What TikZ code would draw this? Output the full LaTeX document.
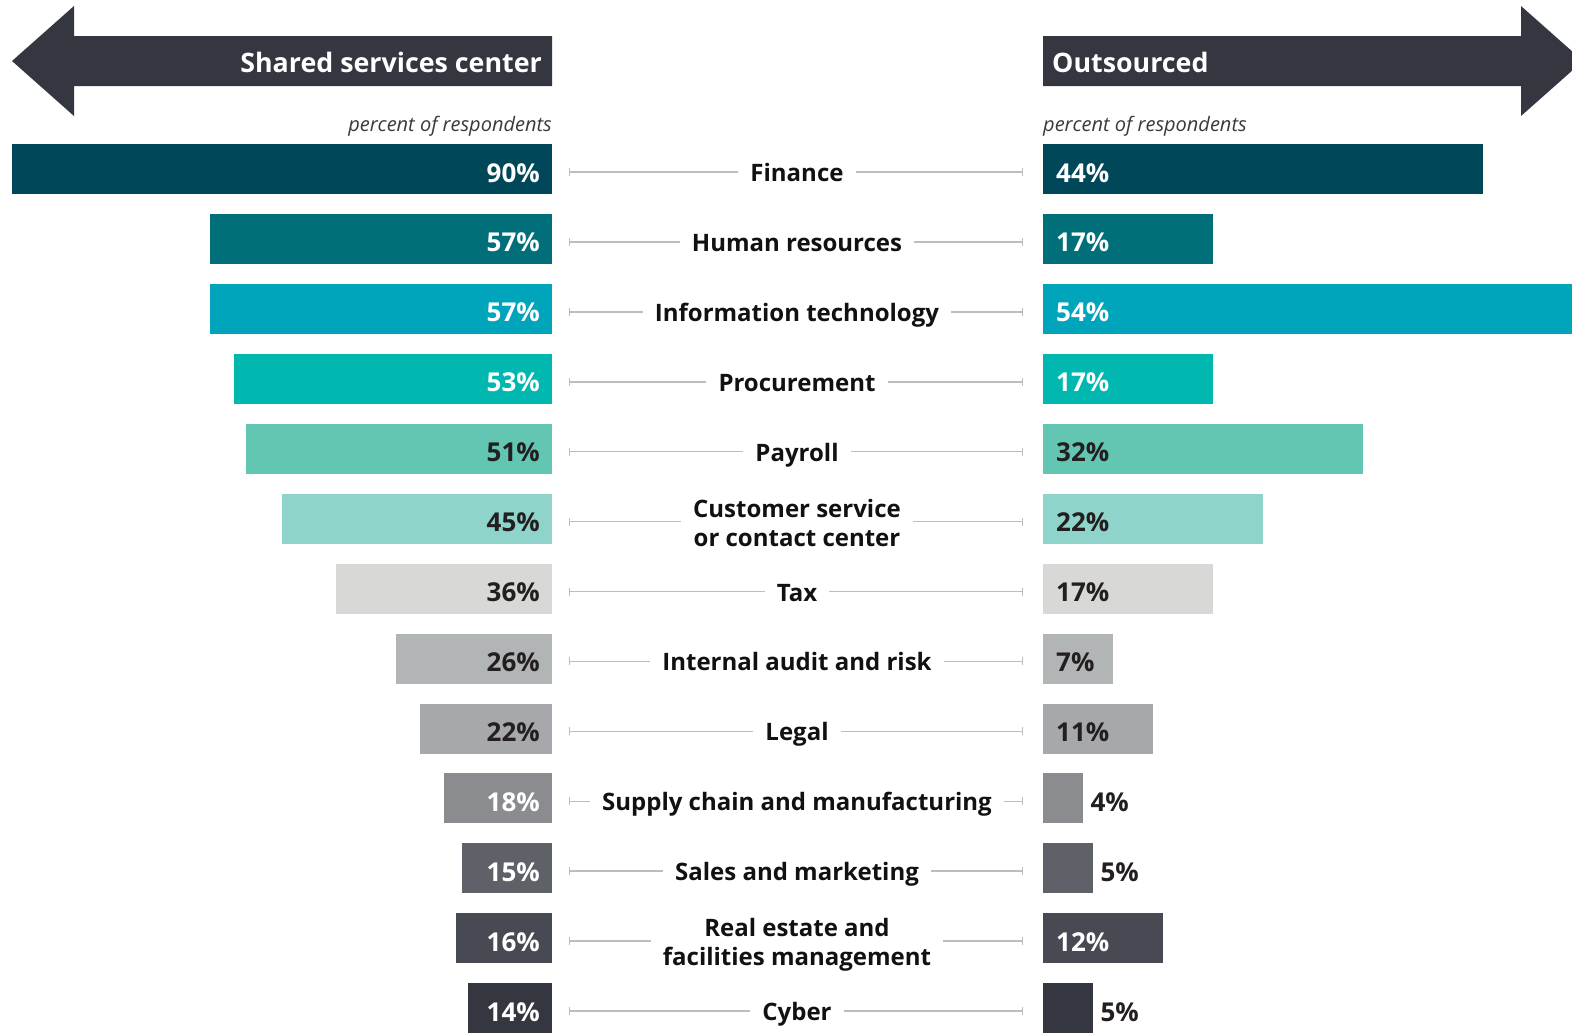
\documentclass[tikz,border=0pt]{standalone}
\usepackage{fontspec}
\setmainfont{Open Sans}
\usetikzlibrary{arrows.meta}
\definecolor{c0}{HTML}{00475A}
\definecolor{c1}{HTML}{006F79}
\definecolor{c2}{HTML}{00A5BB}
\definecolor{c3}{HTML}{00B8B0}
\definecolor{c4}{HTML}{63C6B2}
\definecolor{c5}{HTML}{8ED4CA}
\definecolor{c6}{HTML}{D8D8D6}
\definecolor{c7}{HTML}{B2B5B5}
\definecolor{c8}{HTML}{A6A8AB}
\definecolor{c9}{HTML}{8A8C90}
\definecolor{c10}{HTML}{5E6168}
\definecolor{c11}{HTML}{474A52}
\definecolor{c12}{HTML}{343640}
\definecolor{arrowc}{HTML}{343640}
\definecolor{dk}{HTML}{231F20}
\definecolor{lbl}{HTML}{111111}
\definecolor{subc}{HTML}{3A3A3A}
\definecolor{connc}{HTML}{BDBDBD}
\begin{document}
\begin{tikzpicture}[x=1pt,y=-1pt,
  bar/.style={draw=none,inner sep=0pt,minimum height=50pt},
  pct/.style={font=\fontsize{26}{30}\selectfont\bfseries, inner sep=0pt},
  cat/.style={font=\fontsize{24}{29}\selectfont\bfseries, text=lbl, inner xsep=12pt, inner ysep=0pt, align=center},
  conn/.style={draw=connc, line width=1.5pt},
  hdr/.style={font=\fontsize{26.8}{31}\selectfont\bfseries, text=white, inner sep=0pt},
  subt/.style={font=\fontsize{20}{24}\selectfont\itshape, text=subc, inner sep=0pt}]
\useasboundingbox (0,0) rectangle (1572,1034);
\clip (0,0) rectangle (1572,1034);
% header arrows
\fill[arrowc] (12,61) -- (74,6) -- (74,36) -- (552,36) -- (552,86) -- (74,86) -- (74,116) -- cycle;
\fill[arrowc] (1583,61) -- (1521,6) -- (1521,36) -- (1043,36) -- (1043,86) -- (1521,86) -- (1521,116) -- cycle;
\node[hdr, anchor=base east] (hl) at (542,72) {Shared services center};
\node[hdr, anchor=base west] (hr) at (1052,72) {Outsourced};
\node[subt, anchor=base east] (sl) at (552,131) {percent of respondents};
\node[subt, anchor=base west] (sr) at (1043,131) {percent of respondents};
% rows
\foreach \i/\vL/\vR/\cc/\tL/\tR/\oR/\an/\dy/\lab in {
 0/90/44/c0/white/white/1/base/37.5/Finance,
 1/57/17/c1/white/white/1/base/37.5/Human resources,
 2/57/54/c2/white/white/1/base/37.5/Information technology,
 3/53/17/c3/white/white/1/base/37.5/Procurement,
 4/51/32/c4/dk/dk/1/base/37.5/Payroll,
 5/45/22/c5/dk/dk/1/center/29/{Customer service\\or contact center},
 6/36/17/c6/dk/dk/1/base/37.5/Tax,
 7/26/7/c7/dk/dk/1/base/37.5/Internal audit and risk,
 8/22/11/c8/dk/dk/1/base/37.5/Legal,
 9/18/4/c9/white/dk/0/base/37.5/Supply chain and manufacturing,
 10/15/5/c10/white/dk/0/base/37.5/Sales and marketing,
 11/16/12/c11/white/white/1/center/32/{Real estate and\\facilities management},
 12/14/5/c12/white/dk/0/base/37.5/Cyber}{
  \pgfmathsetmacro\yt{144+69.92*\i}
  \node[bar, fill=\cc, minimum width={6pt*\vL}, anchor=north east] (L\i) at (552,\yt) {};
  \node[bar, fill=\cc, minimum width={10pt*\vR}, anchor=north west] (R\i) at (1043,\yt) {};
  \node[pct, text=\tL, anchor=base east] (pl\i) at (540,\yt+38) {\vL\%};
  \ifnum\oR=1
    \node[pct, text=\tR, anchor=base west] (pr\i) at (1056,\yt+38) {\vR\%};
  \else
    \node[pct, text=\tR, anchor=base west] (pr\i) at ([xshift=7pt]R\i.east |- 0,\yt+38) {\vR\%};
  \fi
  \node[cat, anchor=\an] (c\i) at (797,\yt+\dy) {\lab};
  \coordinate (a\i) at (569,\yt+28);
  \coordinate (b\i) at (1023,\yt+28);
  \draw[conn, {Bar[width=8pt,line width=1.2pt]}-] (a\i) -- (c\i.west |- a\i);
  \draw[conn, -{Bar[width=8pt,line width=1.2pt]}] (c\i.east |- b\i) -- (b\i);
}
\end{tikzpicture}
\end{document}
